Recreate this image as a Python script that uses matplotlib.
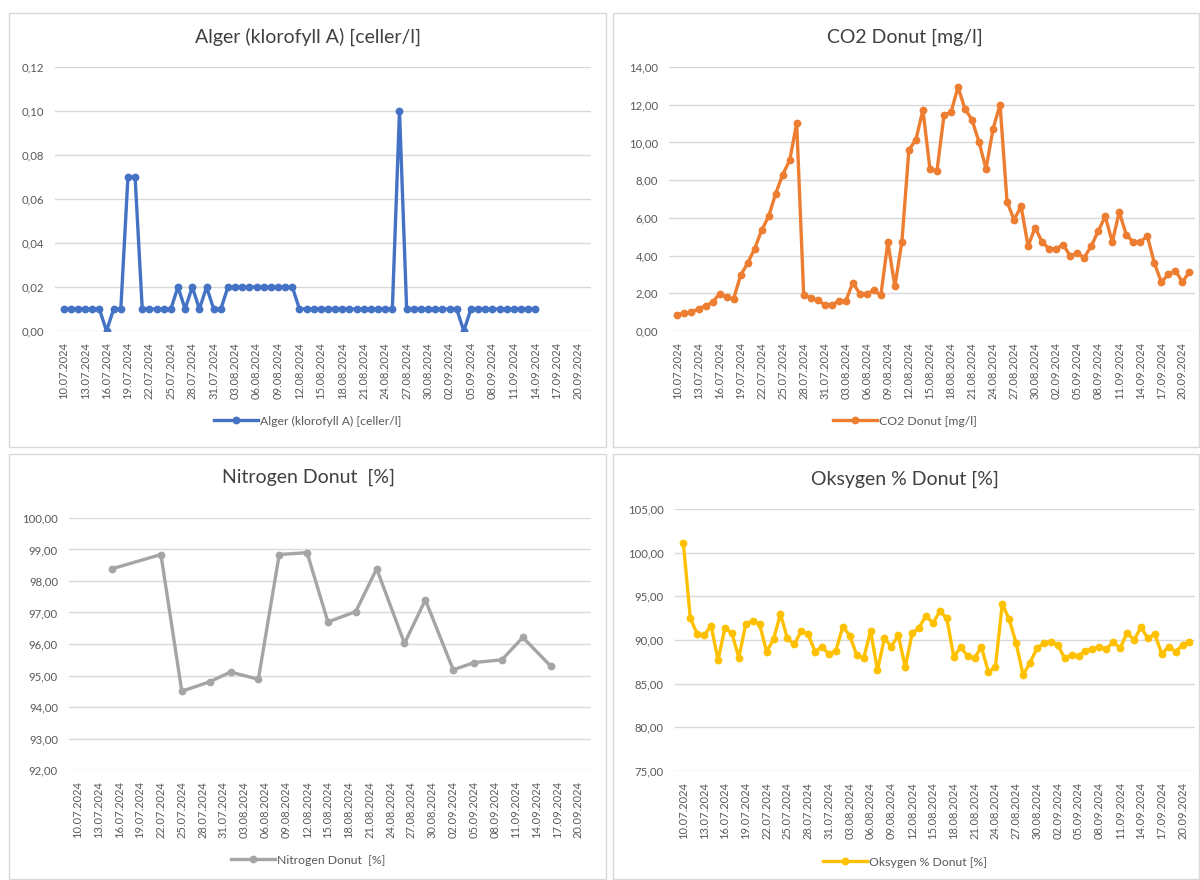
import matplotlib
matplotlib.use('Agg')
import matplotlib.pyplot as plt
import matplotlib.dates as mdates
from matplotlib.patches import Rectangle
from matplotlib.lines import Line2D
from matplotlib.ticker import FuncFormatter, MultipleLocator, FixedLocator
import pandas as pd

plt.rcParams['font.family'] = ['Lato', 'DejaVu Sans']

W, H = 1200, 880

# ---------------- data ----------------
start_date = '2024-07-10'
tick_end_date = '2024-09-20'

algae_title = 'Alger (klorofyll A) [celler/l]'
algae_values = [0.01, 0.01, 0.01, 0.01, 0.01, 0.01, 0.00, 0.01, 0.01, 0.07,
                0.07, 0.01, 0.01, 0.01, 0.01, 0.01, 0.02, 0.01, 0.02, 0.01,
                0.02, 0.01, 0.01, 0.02, 0.02, 0.02, 0.02, 0.02, 0.02, 0.02,
                0.02, 0.02, 0.02, 0.01, 0.01, 0.01, 0.01, 0.01, 0.01, 0.01,
                0.01, 0.01, 0.01, 0.01, 0.01, 0.01, 0.01, 0.10, 0.01, 0.01,
                0.01, 0.01, 0.01, 0.01, 0.01, 0.01, 0.00, 0.01, 0.01, 0.01,
                0.01, 0.01, 0.01, 0.01, 0.01, 0.01, 0.01]

co2_title = 'CO2 Donut [mg/l]'
co2_values = [0.87, 0.95, 1.00, 1.18, 1.33, 1.52, 1.98, 1.80, 1.70, 2.95,
              3.60, 4.36, 5.34, 6.08, 7.28, 8.29, 9.05, 11.02, 1.89, 1.77,
              1.63, 1.40, 1.40, 1.57, 1.59, 2.56, 1.98, 1.98, 2.16, 1.89,
              4.72, 2.37, 4.72, 9.61, 10.14, 11.73, 8.60, 8.48, 11.43, 11.60,
              12.93, 11.78, 11.20, 10.02, 8.60, 10.72, 12.01, 6.84, 5.90, 6.61,
              4.50, 5.48, 4.72, 4.36, 4.36, 4.58, 3.98, 4.13, 3.89, 4.50,
              5.30, 6.08, 4.72, 6.31, 5.10, 4.72, 4.72, 5.04, 3.60, 2.60,
              3.00, 3.20, 2.60, 3.13]

nitrogen_title = 'Nitrogen Donut  [%]'
nitrogen_dates = ['2024-07-15', '2024-07-22', '2024-07-25', '2024-07-29',
                  '2024-08-01', '2024-08-05', '2024-08-08', '2024-08-12',
                  '2024-08-15', '2024-08-19', '2024-08-22', '2024-08-26',
                  '2024-08-29', '2024-09-02', '2024-09-05', '2024-09-09',
                  '2024-09-12', '2024-09-16']
nitrogen_values = [98.39, 98.84, 94.50, 94.80, 95.11, 94.88, 98.84, 98.90,
                   96.70, 97.03, 98.39, 96.02, 97.40, 95.18, 95.41, 95.50,
                   96.21, 95.30]

oxygen_title = 'Oksygen % Donut [%]'
oxygen_values = [101.07, 92.48, 90.69, 90.53, 91.64, 87.71, 91.41, 90.76, 87.98, 91.83,
                 92.21, 91.79, 88.66, 90.08, 92.98, 90.19, 89.50, 91.03, 90.65, 88.66,
                 89.24, 88.36, 88.78, 91.53, 90.50, 88.28, 87.90, 91.03, 86.56, 90.19,
                 89.24, 90.57, 86.87, 90.76, 91.41, 92.79, 91.91, 93.32, 92.48, 88.09,
                 89.16, 88.17, 87.98, 89.16, 86.37, 86.87, 94.12, 92.37, 89.62, 85.99,
                 87.40, 89.05, 89.62, 89.81, 89.43, 87.90, 88.28, 88.17, 88.78, 88.93,
                 89.24, 88.93, 89.81, 89.05, 90.84, 90.00, 91.45, 90.19, 90.69, 88.40,
                 89.24, 88.66, 89.43, 89.81]

# ---------------- styling ----------------
C_BLUE = '#4472C4'
C_ORANGE = '#ED7D31'
C_GRAY = '#A5A5A5'
C_GOLD = '#FFC000'
GRID = '#D9D9D9'
TXT = '#595959'
LW = 2.4
MS = 4.6

fig = plt.figure(figsize=(W / 100, H / 100), dpi=100)
fig.patch.set_facecolor('white')


def px_axes(x0, y0, x1, y1):
    return fig.add_axes([x0 / W, 1 - y1 / H, (x1 - x0) / W, (y1 - y0) / H])


def panel(x0, y0, x1, y1):
    fig.add_artist(Rectangle((x0 / W, 1 - y1 / H), (x1 - x0) / W, (y1 - y0) / H,
                             transform=fig.transFigure, fill=False,
                             edgecolor=GRID, lw=1.0))


t0 = pd.Timestamp(start_date)
tick_dates = pd.date_range(start_date, tick_end_date, freq='3D')
xlim = (mdates.date2num(t0 - pd.Timedelta(hours=29)),
        mdates.date2num(t0 + pd.Timedelta(days=73.8)))


def comma_fmt(dec):
    return FuncFormatter(lambda v, p: f'{v:.{dec}f}'.replace('.', ','))


def style_axes(ax, ylim, ystep):
    ax.set_xlim(*xlim)
    ax.set_ylim(*ylim)
    ax.yaxis.set_major_locator(MultipleLocator(ystep))
    ax.yaxis.set_major_formatter(comma_fmt(2))
    ax.xaxis.set_major_locator(FixedLocator(mdates.date2num(tick_dates)))
    ax.xaxis.set_major_formatter(mdates.DateFormatter('%d.%m.%Y'))
    for s in ax.spines.values():
        s.set_visible(False)
    ax.grid(axis='y', color=GRID, lw=1.0)
    ax.set_axisbelow(True)
    ax.tick_params(axis='y', length=0, pad=8, labelsize=8.2, labelcolor=TXT)
    ax.tick_params(axis='x', length=0, pad=8, labelsize=8.0, labelcolor=TXT,
                   labelrotation=90)


def add_title(text, cx, cy):
    fig.text(cx / W, 1 - cy / H, text, ha='center', va='center',
             fontsize=14, color='#404040')


def add_legend(ax, label, color, cx, cy):
    h = Line2D([], [], color=color, lw=LW, marker='o', ms=MS)
    ax.legend([h], [label], loc='center', bbox_to_anchor=(cx / W, 1 - cy / H),
              bbox_transform=fig.transFigure, frameon=False, fontsize=8.8,
              handlelength=3.6, handletextpad=0.15, labelcolor=TXT)


# panels
panel(9, 13, 606, 447)
panel(613, 13, 1199, 447)
panel(9, 454, 606, 879)
panel(613, 454, 1199, 879)

# ---- Algae ----
ax1 = px_axes(55, 67, 591, 331)
d1 = pd.date_range(start_date, periods=len(algae_values), freq='D')
ax1.plot(d1, algae_values, color=C_BLUE, lw=LW, marker='o', ms=MS)
style_axes(ax1, (0, 0.12), 0.02)
add_title(algae_title, 308, 37)
add_legend(ax1, algae_title, C_BLUE, 308, 421)

# ---- CO2 ----
ax2 = px_axes(669, 67, 1195, 331)
d2 = pd.date_range(start_date, periods=len(co2_values), freq='D')
ax2.plot(d2, co2_values, color=C_ORANGE, lw=LW, marker='o', ms=MS)
style_axes(ax2, (0, 14), 2)
add_title(co2_title, 905, 37)
add_legend(ax2, co2_title, C_ORANGE, 905, 421)

# ---- Nitrogen ----
ax3 = px_axes(69, 518, 591, 770)
d3 = pd.to_datetime(nitrogen_dates)
ax3.plot(d3, nitrogen_values, color=C_GRAY, lw=LW, marker='o', ms=MS)
style_axes(ax3, (92, 100), 1)
add_title(nitrogen_title, 308, 477)
add_legend(ax3, nitrogen_title, C_GRAY, 308, 860)

# ---- Oxygen ----
ax4 = px_axes(675, 509, 1195, 771)
d4 = pd.date_range(start_date, periods=len(oxygen_values), freq='D')
ax4.plot(d4, oxygen_values, color=C_GOLD, lw=LW, marker='o', ms=MS)
style_axes(ax4, (75, 105), 5)
add_title(oxygen_title, 905, 479)
add_legend(ax4, oxygen_title, C_GOLD, 905, 862)

fig.savefig('out.png', dpi=100, facecolor='white')
